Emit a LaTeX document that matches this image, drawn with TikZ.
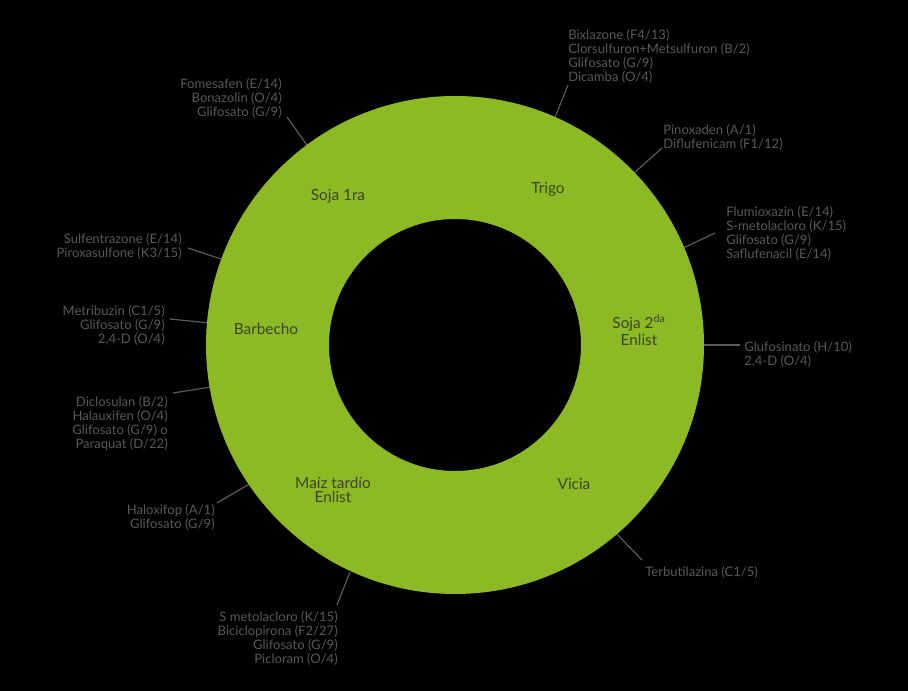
\documentclass[tikz,border=0pt]{standalone}
\usepackage{fontspec}
\setmainfont{Lato}
\definecolor{ringgreen}{RGB}{141,185,36}
\definecolor{txtgray}{RGB}{88,88,88}
\definecolor{ringtxt}{RGB}{58,68,38}
\definecolor{leadgray}{RGB}{90,90,90}
\tikzset{
  lbl/.style={inner sep=0pt, text=txtgray, font=\fontsize{9.8}{10.5}\selectfont},
  seg/.style={inner sep=0pt, text=ringtxt, font=\fontsize{11.5}{10.5}\selectfont, align=center},
  leader/.style={draw=leadgray, line width=0.9pt}
}
\begin{document}
\begin{tikzpicture}[x=0.75pt,y=-0.75pt]
\useasboundingbox (0,0) rectangle (908,691);
\fill[black] (0,0) rectangle (908,691);
\coordinate (c) at (455,345);
\coordinate (l1a) at (568,85);   \coordinate (l1b) at (554,120);
\coordinate (l2a) at (287,117);  \coordinate (l2b) at (309,148);
\coordinate (l3a) at (662,148);  \coordinate (l3b) at (633,174);
\coordinate (l4a) at (715,233);  \coordinate (l4b) at (681,249);
\coordinate (l5a) at (188,248);  \coordinate (l5b) at (224,260);
\coordinate (l6a) at (170,319);  \coordinate (l6b) at (209,323);
\coordinate (l7a) at (173,393);  \coordinate (l7b) at (211,387);
\coordinate (l8a) at (217,503);  \coordinate (l8b) at (251,483);
\coordinate (l9a) at (337,605);  \coordinate (l9b) at (350,572);
\coordinate (l10a) at (740,345); \coordinate (l10b) at (699,345);
\coordinate (l11a) at (642,560); \coordinate (l11b) at (615,532);
\foreach \i in {1,...,11} {\draw[leader] (l\i a) -- (l\i b);}
% ring
\fill[ringgreen, even odd rule] (c) circle[radius=249] (c) circle[radius=126];
% outer labels
\node[lbl, anchor=north west, align=left] (bix) at (568,29) {Bixlazone (F4/13)\\Clorsulfuron+Metsulfuron (B/2)\\Glifosato (G/9)\\Dicamba (O/4)};
\node[lbl, anchor=north east, align=right] (fom) at (282,78) {Fomesafen (E/14)\\Bonazolin (O/4)\\Glifosato (G/9)};
\node[lbl, anchor=north west, align=left] (pin) at (663,124) {Pinoxaden (A/1)\\Diflufenicam (F1/12)};
\node[lbl, anchor=north west, align=left] (flu) at (726,206) {Flumioxazin (E/14)\\S-metolacloro (K/15)\\Glifosato (G/9)\\Saflufenacil (E/14)};
\node[lbl, anchor=north east, align=right] (sul) at (182,233) {Sulfentrazone (E/14)\\Piroxasulfone (K3/15)};
\node[lbl, anchor=north east, align=right] (met) at (165,305) {Metribuzin (C1/5)\\Glifosato (G/9)\\2,4-D (O/4)};
\node[lbl, anchor=north east, align=right] (dic) at (168,396) {Diclosulan (B/2)\\Halauxifen (O/4)\\Glifosato (G/9) o\\Paraquat (D/22)};
\node[lbl, anchor=north east, align=right] (hal) at (215,504) {Haloxifop (A/1)\\Glifosato (G/9)};
\node[lbl, anchor=north east, align=right] (sme) at (338,611) {S metolacloro (K/15)\\Biciclopirona (F2/27)\\Glifosato (G/9)\\Picloram (O/4)};
\node[lbl, anchor=north west, align=left] (glu) at (744,341) {Glufosinato (H/10)\\2,4-D (O/4)};
\node[lbl, anchor=north west, align=left] (ter) at (645,566) {Terbutilazina (C1/5)};
% segment labels
\node[seg] (s1) at (338,196) {Soja 1ra};
\node[seg] (s2) at (548,189) {Trigo};
\node[seg] (s3) at (266,329) {Barbecho};
\node[seg] (s4) at (333,490) {Maíz tardío\\Enlist};
\node[seg] (s5) at (574,484) {Vicia};
\node[seg, font=\fontsize{11.5}{12.75}\selectfont] (s6) at (639,330) {Soja 2\textsuperscript{da}\\Enlist};
\end{tikzpicture}
\end{document}
